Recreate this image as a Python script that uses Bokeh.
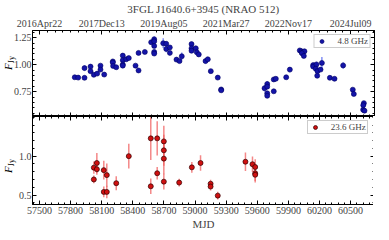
from math import pi
import numpy as np
from bokeh.plotting import figure
from bokeh.layouts import column, row
from bokeh.models import Range1d, LinearAxis, FixedTicker, Legend, LegendItem, ColumnDataSource, Div
from bokeh.embed import file_html
from bokeh.resources import INLINE

FONT = "Liberation Serif"

title_text = "3FGL J1640.6+3945 (NRAO 512)"
x_label = "MJD"
y_label_main = "F"
y_label_sub = "Jy"
label_48 = "4.8 GHz"
label_236 = "23.6 GHz"

# 4.8 GHz light curve
mjd_48 = [57840, 57873, 57934, 57934, 57992, 57992, 58024, 58056, 58088, 58088,
          58124, 58207, 58207, 58210, 58240, 58303, 58303, 58303, 58303, 58336,
          58361, 58426, 58455, 58455, 58516, 58577, 58606, 58606, 58606, 58606,
          58606, 58693, 58722, 58722, 58757, 58757, 58821, 58850, 58872, 58966,
          58966, 58966, 59007, 59017, 59036, 59101, 59123, 59152, 59219, 59252,
          59252, 59670, 59696, 59696, 59696, 59696, 59759, 59779, 59759, 59879,
          59914, 60010, 60027, 60043, 60055, 60030, 60049, 60139, 60139, 60171,
          60164, 60181, 60178, 60210, 60223, 60300, 60345, 60428, 60521, 60531,
          60628, 60622, 60621, 60634]
flux_48 = [0.884, 0.881, 0.969, 0.879, 0.983, 0.941, 0.907, 0.918, 0.992, 0.955,
           0.909, 1.031, 1.020, 0.989, 0.977, 1.085, 1.043, 1.003, 0.992, 1.051,
           1.062, 0.992, 1.110, 0.947, 1.119, 1.209, 1.237, 1.218, 1.175, 1.119,
           1.104, 1.200, 1.195, 1.147, 1.161, 1.110, 1.048, 1.034, 1.079, 1.192,
           1.153, 1.130, 1.153, 1.116, 1.096, 1.034, 1.051, 0.941, 0.881, 0.771,
           0.763, 0.782, 0.822, 0.797, 0.735, 0.712, 0.864, 0.870, 0.754, 0.884,
           0.955, 1.133, 1.125, 1.119, 1.125, 1.108, 1.082, 0.997, 0.983, 1.003,
           0.964, 0.941, 0.898, 0.955, 1.017, 0.879, 0.870, 0.994, 0.769, 0.729,
           0.644, 0.625, 0.582, 0.574]
err_48 = [0.010, 0.010, 0.025, 0.020, 0.015, 0.015, 0.010, 0.010, 0.015, 0.015,
          0.012, 0.012, 0.012, 0.012, 0.010, 0.015, 0.015, 0.012, 0.012, 0.010,
          0.010, 0.012, 0.020, 0.015, 0.015, 0.020, 0.025, 0.025, 0.020, 0.020,
          0.020, 0.045, 0.020, 0.030, 0.020, 0.020, 0.015, 0.015, 0.035, 0.020,
          0.020, 0.015, 0.020, 0.015, 0.015, 0.025, 0.015, 0.012, 0.010, 0.012,
          0.012, 0.030, 0.025, 0.020, 0.020, 0.020, 0.012, 0.010, 0.012, 0.010,
          0.025, 0.012, 0.012, 0.012, 0.012, 0.012, 0.015, 0.020, 0.015, 0.025,
          0.020, 0.020, 0.020, 0.015, 0.055, 0.020, 0.015, 0.030, 0.012, 0.012,
          0.015, 0.012, 0.012, 0.012]

# 23.6 GHz light curve
mjd_236 = [58024, 58024, 58053, 58053, 58120, 58120, 58149, 58149, 58240, 58361,
           58573, 58573, 58635, 58635, 58699, 58699, 58699, 58699, 58847, 58969,
           59053, 59150, 59150, 59219, 59486, 59554, 59580, 59580, 59580]
flux_236 = [0.852, 0.700, 0.912, 0.832, 0.820, 0.540, 0.756, 0.540, 0.652, 1.000,
            1.229, 0.612, 1.229, 0.780, 1.190, 1.075, 0.968, 0.672, 0.660, 0.856,
            0.912, 0.645, 0.609, 0.492, 0.928, 0.896, 0.860, 0.780, 0.760]
err_236 = [0.08, 0.05, 0.13, 0.07, 0.12, 0.07, 0.15, 0.08, 0.09, 0.16,
           0.28, 0.10, 0.22, 0.08, 0.20, 0.20, 0.20, 0.10, 0.05, 0.07,
           0.10, 0.05, 0.05, 0.05, 0.12, 0.10, 0.10, 0.10, 0.10]

# axes ticks
x_ticks = [57500, 57800, 58100, 58400, 58700, 59000, 59300, 59600, 59900, 60200, 60500]
x_tick_labels = ["57500", "57800", "58100", "58400", "58700", "59000", "59300",
                 "59600", "59900", "60200", "60500"]
date_ticks = [57500, 58100, 58700, 59300, 59900, 60500]
date_tick_labels = ["2016Apr22", "2017Dec13", "2019Aug05", "2021Mar27", "2022Nov17", "2024Jul09"]
y_ticks_48 = [0.75, 1.00, 1.25]
y_tick_labels_48 = ["0.75", "1.00", "1.25"]
y_ticks_236 = [0.5, 1.0]
y_tick_labels_236 = ["0.5", "1.0"]

x_minor = [float(v) for v in np.arange(57380, 60800, 60)]
date_minor = [float(v) for v in np.arange(57350, 60800, 75)]
y_minor_48 = [float(v) for v in np.round(np.arange(0.50, 1.35, 0.05), 2)]
y_minor_236 = [float(v) for v in np.round(np.arange(0.3, 1.6, 0.1), 1)]

DIVW = 10
LEFT = 19
FW = 373 - DIVW - LEFT - 2
PX_PER_DAY = 0.1037
x0 = 57500 - (44 - (8 + DIVW + LEFT)) / PX_PER_DAY
xr = Range1d(x0, x0 + FW / PX_PER_DAY)
H1 = 86
H2 = 88


def common(ax):
    ax.major_tick_out = 0
    ax.minor_tick_out = 0
    ax.axis_line_color = "black"
    ax.major_tick_line_color = "black"
    ax.minor_tick_line_color = "black"


def style_axis(ax, ticks, minor, labels, standoff=2):
    common(ax)
    ax.ticker = FixedTicker(ticks=ticks, minor_ticks=minor)
    ax.major_tick_in = 4
    ax.minor_tick_in = 2
    ax.major_label_text_font = FONT
    ax.major_label_text_font_size = "10px"
    ax.major_label_standoff = standoff
    ax.major_label_overrides = {t: l for t, l in zip(ticks, labels)}


def tick_only(p, side, ticks, minor):
    # ticks without labels: long ticks and short ticks as two label-free axes
    for locs, ln in ((ticks, 4), (minor, 2)):
        ax = LinearAxis(ticker=FixedTicker(ticks=[], minor_ticks=locs))
        common(ax)
        ax.minor_tick_in = ln
        ax.major_tick_in = 0
        ax.major_label_standoff = 0
        p.add_layout(ax, side)


def base_fig(h, yr, **kw):
    p = figure(frame_width=FW, frame_height=h, x_range=xr, y_range=yr,
               output_backend="svg", toolbar_location=None,
               x_axis_type=None, y_axis_type=None,
               min_border_left=LEFT, min_border_right=2, min_border_top=0,
               min_border_bottom=0, **kw)
    p.xgrid.visible = False
    p.ygrid.visible = False
    p.outline_line_color = "black"
    p.background_fill_color = "white"
    p.border_fill_alpha = 0
    return p


def legend_for(p, r, text):
    lg = Legend(items=[LegendItem(label=text, renderers=[r])], location="top_right")
    lg.label_text_font = FONT
    lg.label_text_font_size = "9px"
    lg.glyph_width = 12
    lg.glyph_height = 10
    lg.label_height = 9
    lg.label_standoff = 10
    lg.padding = 1
    lg.spacing = 0
    lg.margin = 4
    lg.border_line_color = "#999999"
    lg.border_line_width = 1
    lg.background_fill_color = "white"
    lg.background_fill_alpha = 1
    p.add_layout(lg)


# ---------- top panel ----------
yr1 = Range1d(0.52, 1.318)
p1 = base_fig(H1, yr1, title=title_text)
p1.title.text_font = FONT
p1.title.text_font_size = "11px"
p1.title.text_font_style = "normal"
p1.title.align = "center"
p1.title.standoff = 0
p1.title.offset = 0

left1 = LinearAxis()
style_axis(left1, y_ticks_48, y_minor_48, y_tick_labels_48, standoff=1)
p1.add_layout(left1, "left")
top_ax = LinearAxis()
style_axis(top_ax, date_ticks, date_minor, date_tick_labels)
p1.add_layout(top_ax, "above")
tick_only(p1, "below", x_ticks, x_minor)
tick_only(p1, "right", y_ticks_48, y_minor_48)

s48 = ColumnDataSource(dict(x=mjd_48, y=flux_48,
                            lo=[f - e for f, e in zip(flux_48, err_48)],
                            hi=[f + e for f, e in zip(flux_48, err_48)]))
p1.segment(x0="x", y0="lo", x1="x", y1="hi", source=s48,
           line_color="#5a6cf0", line_alpha=0.75, line_width=1.5)
r48 = p1.scatter("x", "y", source=s48, marker="circle", size=5,
                 fill_color="#1414a8", line_color="#000064", line_width=0.6)
legend_for(p1, r48, label_48)

# ---------- bottom panel ----------
yr2 = Range1d(0.378, 1.51)
p2 = base_fig(H2, yr2)
bottom2 = LinearAxis()
style_axis(bottom2, x_ticks, x_minor, x_tick_labels)
bottom2.axis_label = x_label
bottom2.axis_label_text_font = FONT
bottom2.axis_label_text_font_size = "11px"
bottom2.axis_label_text_font_style = "normal"
bottom2.axis_label_standoff = 1
p2.add_layout(bottom2, "below")
left2 = LinearAxis()
style_axis(left2, y_ticks_236, y_minor_236, y_tick_labels_236, standoff=1)
p2.add_layout(left2, "left")
tick_only(p2, "above", x_ticks, x_minor)
tick_only(p2, "right", y_ticks_236, y_minor_236)

s236 = ColumnDataSource(dict(x=mjd_236, y=flux_236,
                             lo=[f - e for f, e in zip(flux_236, err_236)],
                             hi=[f + e for f, e in zip(flux_236, err_236)]))
p2.segment(x0="x", y0="lo", x1="x", y1="hi", source=s236,
           line_color="#f06060", line_alpha=0.75, line_width=1.5)
r236 = p2.scatter("x", "y", source=s236, marker="circle", size=5,
                  fill_color="#d01010", line_color="#300000", line_width=0.7)
legend_for(p2, r236, label_236)


# ---------- y-axis labels (rotated HTML text with subscript) ----------
def ylab_html(top_px):
    return ('<div style="position:absolute;left:9px;top:%dpx;'
            'transform:translate(-50%%,-50%%) rotate(-90deg);white-space:nowrap;'
            'font-family:\'Liberation Serif\';font-size:11px;line-height:11px;color:black;">'
            '<i>%s</i><span style="font-size:8px;position:relative;top:2px;">%s</span></div>'
            % (top_px, y_label_main, y_label_sub))


ydiv = Div(text='<div style="position:relative;width:%dpx;height:210px;overflow:visible;">%s%s</div>'
           % (DIVW, ylab_html(63), ylab_html(166)),
           width=DIVW, height=210, margin=(0, 0, 0, 0),
           styles={"overflow": "visible"})

layout = row(ydiv, column(p1, p2, spacing=0), spacing=0)
open("out.html", "w").write(file_html(layout, INLINE))
